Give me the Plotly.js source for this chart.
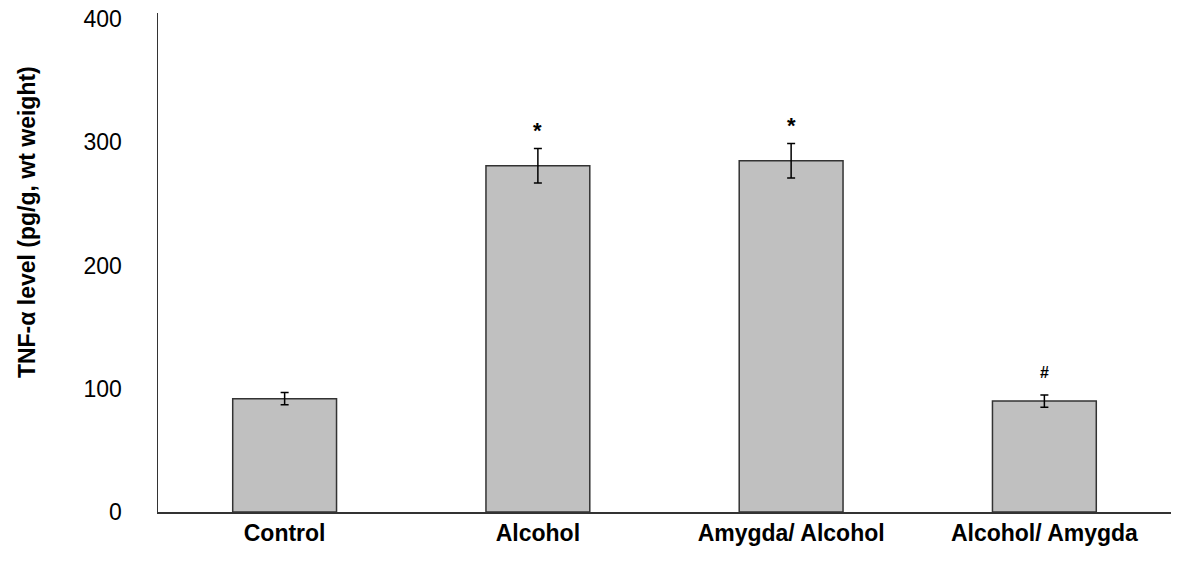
<!DOCTYPE html>
<html>
<head>
<meta charset="utf-8">
<script src="https://cdn.plot.ly/plotly-3.0.1.min.js"></script>
<style>html,body{margin:0;padding:0;background:#fff;}#chart{width:1182px;height:565px;}</style>
</head>
<body>
<div id="chart"></div>
<script>
// Data
const categories = ['Control', 'Alcohol', 'Amygda/ Alcohol', 'Alcohol/ Amygda'];
const tnfValues = [92, 281, 285, 90];
const tnfErrors = [5, 14, 14, 5];
const significance = ['', '*', '*', '#'];
const yTickVals = [0, 100, 200, 300, 400];
const yTitle = 'TNF-\u03b1 level (pg/g, wt weight)';

const FONT = 'Liberation Sans, Arial, Helvetica, sans-serif';

const trace = {
  type: 'bar',
  x: categories,
  y: tnfValues,
  marker: { color: '#c0c0c0', line: { color: '#333333', width: 1.5 } },
  error_y: { type: 'data', array: tnfErrors, visible: true, color: '#000000', thickness: 1.5, width: 4 },
  hoverinfo: 'none'
};

const sigAnnotations = categories.map((c, i) => ({
  x: c, y: tnfValues[i] + tnfErrors[i], xref: 'x', yref: 'y',
  text: '<b>' + significance[i] + '</b>', showarrow: false,
  yanchor: 'middle', yshift: significance[i] === '#' ? 22 : 18,
  font: { family: FONT, size: significance[i] === '#' ? 16 : 22, color: '#000' },
  _keep: significance[i] !== ''
})).filter(a => a._keep).map(a => { delete a._keep; return a; });

const layout = {
  width: 1182, height: 565,
  margin: { l: 158, r: 11, t: 13, b: 53 },
  paper_bgcolor: '#fff', plot_bgcolor: '#fff',
  showlegend: false,
  bargap: 0.59,
  font: { family: FONT, color: '#000' },
  xaxis: {
    showline: true, linecolor: '#333333', linewidth: 1.5,
    ticks: '', showgrid: false, zeroline: false,
    tickfont: { family: FONT, size: 23, color: '#000', weight: 'bold' },
    ticklabelstandoff: 0
  },
  yaxis: {
    range: [0, 405], tickvals: yTickVals,
    showline: true, linecolor: '#333333', linewidth: 1.5,
    ticks: '', showgrid: false, zeroline: false,
    tickfont: { family: FONT, size: 23, color: '#000' },
    ticklabelstandoff: 30
  },
  annotations: [
    {
      xref: 'paper', yref: 'paper', x: -0.1293, y: 0.581,
      xanchor: 'center', yanchor: 'middle', textangle: -90,
      text: '<b>' + yTitle + '</b>', showarrow: false,
      font: { family: FONT, size: 23, color: '#000' }
    }
  ].concat(sigAnnotations)
};

Plotly.newPlot('chart', [trace], layout, { staticPlot: true, displayModeBar: false });
</script>
</body>
</html>
